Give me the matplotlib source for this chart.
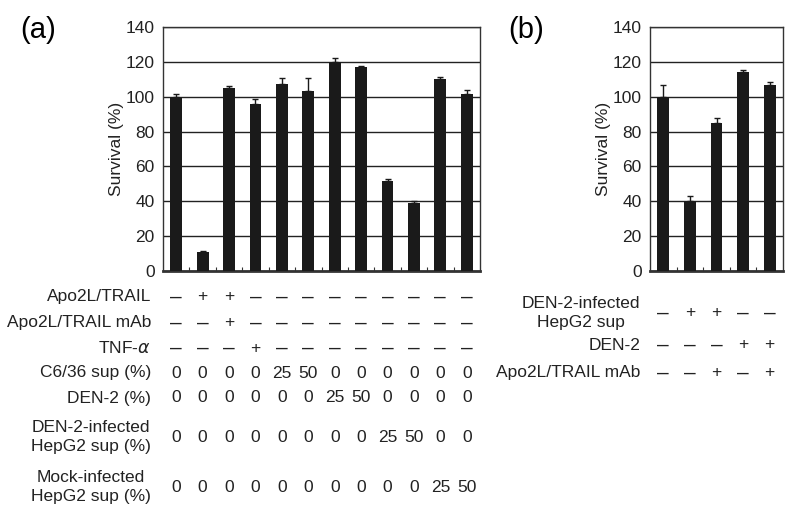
import numpy as np
import matplotlib
matplotlib.use('Agg')
import matplotlib.pyplot as plt
import matplotlib.transforms as mtransforms

plt.rcParams['font.family'] = ['Liberation Sans', 'DejaVu Sans']
plt.rcParams['mathtext.fontset'] = 'dejavusans'

# panel (a) data
surv_a = [100, 11, 105, 96, 107.5, 103, 120, 117, 51.5, 39, 110, 101.5]
err_a = [1.5, 0.6, 1.2, 2.5, 3, 7.5, 2, 0.4, 1.5, 1.2, 1.5, 2.2]
rows_a = [
    ('Apo2L/TRAIL', ['–', '+', '+', '–', '–', '–', '–', '–', '–', '–', '–', '–']),
    ('Apo2L/TRAIL mAb', ['–', '–', '+', '–', '–', '–', '–', '–', '–', '–', '–', '–']),
    (r'TNF-$\alpha$', ['–', '–', '–', '+', '–', '–', '–', '–', '–', '–', '–', '–']),
    ('C6/36 sup (%)', ['0', '0', '0', '0', '25', '50', '0', '0', '0', '0', '0', '0']),
    ('DEN-2 (%)', ['0', '0', '0', '0', '0', '0', '25', '50', '0', '0', '0', '0']),
    ('DEN-2-infected\nHepG2 sup (%)', ['0', '0', '0', '0', '0', '0', '0', '0', '25', '50', '0', '0']),
    ('Mock-infected\nHepG2 sup (%)', ['0', '0', '0', '0', '0', '0', '0', '0', '0', '0', '25', '50']),
]
rows_a_y = [297, 323, 348, 373, 398, 437, 487]

# panel (b) data
surv_b = [100, 40, 85, 114, 107]
err_b = [7, 3, 3, 1.5, 1.5]
rows_b = [
    ('DEN-2-infected\nHepG2 sup', ['–', '+', '+', '–', '–']),
    ('DEN-2', ['–', '–', '–', '+', '+']),
    ('Apo2L/TRAIL mAb', ['–', '–', '+', '–', '+']),
]
rows_b_y = [313, 345, 373]

W, H = 800, 509
fig = plt.figure(figsize=(8, 5.09), dpi=100)
fs = 12.5


def panel(left, right, vals, errs, label, label_x, rows, rows_y, lab_x):
    ax = fig.add_axes([left / W, (H - 271) / H, (right - left) / W, 244 / H])
    x = np.arange(len(vals))
    ax.bar(x, vals, width=0.45, color='#1a1a1a', zorder=3)
    ax.errorbar(x, vals, yerr=[np.zeros(len(errs)), errs], fmt='none',
                ecolor='#1a1a1a', elinewidth=1, capsize=2.5, capthick=1, zorder=4)
    ax.set_xlim(-0.5, len(vals) - 0.5)
    ax.set_ylim(0, 140)
    ax.set_yticks(range(0, 141, 20))
    ax.yaxis.grid(True, color='#222222', lw=1)
    ax.set_axisbelow(True)
    ax.set_xticks(np.arange(len(vals) - 1) + 0.5)
    ax.set_xticklabels([])
    ax.tick_params(axis='x', direction='in', length=3, color='#333333')
    ax.tick_params(axis='y', length=0, pad=6, labelsize=fs, labelcolor='#222222')
    for s in ax.spines.values():
        s.set_color('#333333')
        s.set_linewidth(1)
    ax.spines['bottom'].set_linewidth(2)
    ax.set_ylabel('Survival (%)', fontsize=fs, color='#222222', labelpad=1)
    fig.text(label_x / W, 1 - 30 / H, label, fontsize=21, va='center', ha='left')
    tr = mtransforms.blended_transform_factory(ax.transData, fig.transFigure)
    for (name, cells), yy in zip(rows, rows_y):
        fig.text(lab_x / W, 1 - yy / H, name, fontsize=fs, ha='right', va='center',
                 multialignment='center', color='#222222', linespacing=1.35)
        for i, c in enumerate(cells):
            ax.text(i, 1 - yy / H, c, transform=tr, fontsize=15 if c == '–' else fs,
                    ha='center', va='center', color='#222222')
    return ax


panel(163, 480, surv_a, err_a, '(a)', 20, rows_a, rows_a_y, 151)
panel(650, 783, surv_b, err_b, '(b)', 508, rows_b, rows_b_y, 640)

fig.savefig('out.png', dpi=100)
